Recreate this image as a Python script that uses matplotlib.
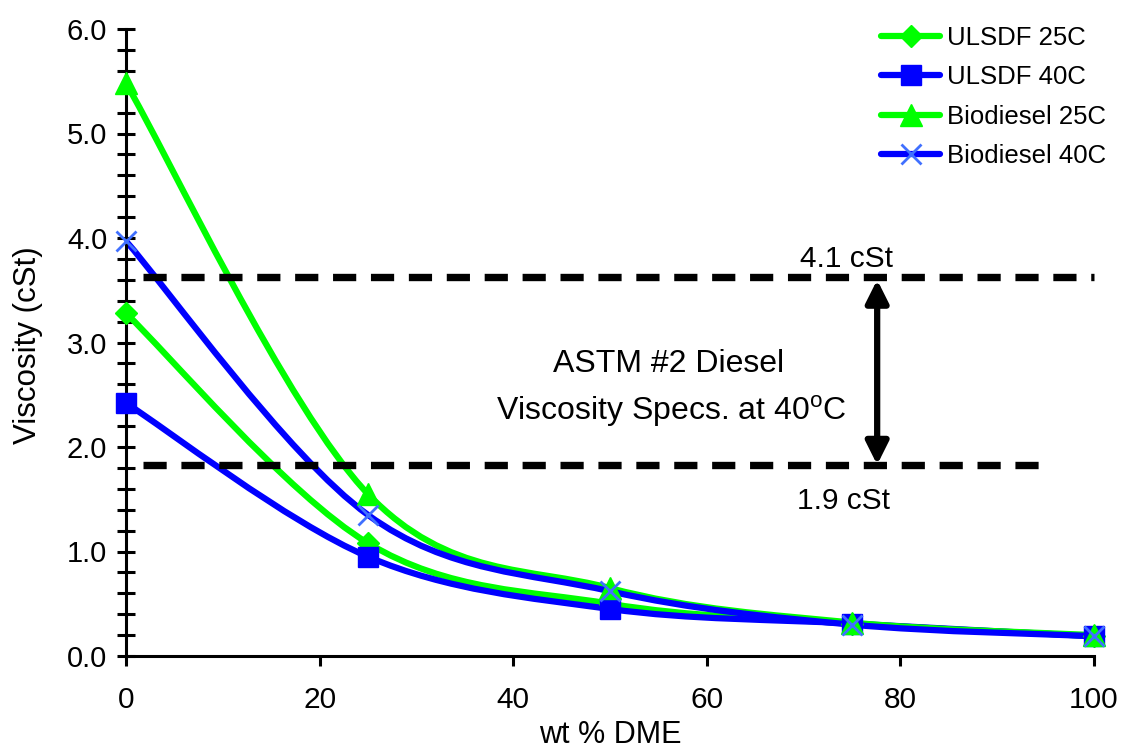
import numpy as np
import matplotlib
matplotlib.use("Agg")
import matplotlib.pyplot as plt
from matplotlib.path import Path
from matplotlib.patches import PathPatch
from matplotlib.lines import Line2D

plt.rcParams['font.family'] = ['Liberation Sans', 'DejaVu Sans']
plt.rcParams['mathtext.fontset'] = 'custom'
plt.rcParams['mathtext.rm'] = 'Liberation Sans'

# ---- data ----
wt_dme = [0, 25, 50, 75, 100]
ulsdf_25c = [3.28, 1.08, 0.50, 0.31, 0.19]
ulsdf_40c = [2.42, 0.95, 0.45, 0.31, 0.19]
biodiesel_25c = [5.48, 1.55, 0.65, 0.32, 0.20]
biodiesel_40c = [3.97, 1.35, 0.62, 0.30, 0.19]
series_names = ["ULSDF 25C", "ULSDF 40C", "Biodiesel 25C", "Biodiesel 40C"]
spec_upper_y = 3.63
spec_lower_y = 1.83
spec_upper_label = "4.1 cSt"
spec_lower_label = "1.9 cSt"
x_ticks = [0, 20, 40, 60, 80, 100]
y_ticks = [0.0, 1.0, 2.0, 3.0, 4.0, 5.0, 6.0]

GREEN = '#00FF00'
BLUE = '#0000FF'
LBLUE = '#4070FF'


def smooth_path(x, y):
    """Excel-like smoothed line: Catmull-Rom segments as cubic Bezier."""
    pts = np.column_stack([x, y]).astype(float)
    n = len(pts)
    verts = [pts[0]]
    codes = [Path.MOVETO]
    for i in range(n - 1):
        p0 = pts[i - 1] if i > 0 else pts[i]
        p1 = pts[i]
        p2 = pts[i + 1]
        p3 = pts[i + 2] if i + 2 < n else pts[i + 1]
        c1 = p1 + (p2 - p0) / 6.0
        c2 = p2 - (p3 - p1) / 6.0
        verts += [c1, c2, p2]
        codes += [Path.CURVE4] * 3
    return Path(verts, codes)


fig = plt.figure(figsize=(11.25, 7.51), dpi=100)
ax = fig.add_axes([126 / 1125, 1 - 656 / 751, (1094 - 126) / 1125, (656 - 29) / 751])

styles = [
    (ulsdf_25c, GREEN, dict(marker='D', ms=11.5, mfc=GREEN, mec=GREEN, mew=1)),
    (ulsdf_40c, BLUE, dict(marker='s', ms=14, mfc=BLUE, mec=BLUE, mew=1)),
    (biodiesel_25c, GREEN, dict(marker='^', ms=16, mfc=GREEN, mec=GREEN, mew=1)),
    (biodiesel_40c, BLUE, dict(marker='x', ms=15, mfc=LBLUE, mec=LBLUE, mew=2)),
]
LW = 4.5
handles = []
for (vals, col, mk), name in zip(styles, series_names):
    patch = PathPatch(smooth_path(wt_dme, vals), fill=False, edgecolor=col,
                      lw=LW, capstyle='round', joinstyle='round', zorder=2)
    ax.add_patch(patch)
    ax.plot(wt_dme, vals, linestyle='none', zorder=3, clip_on=False, **mk)
    handles.append(Line2D([], [], color=col, lw=LW, solid_capstyle='round', **mk))

# spec lines
ax.plot([1.75, 100], [spec_upper_y, spec_upper_y], color='black', lw=5.3,
        dashes=(3.15, 2.0), dash_capstyle='butt', zorder=4, clip_on=False)
ax.plot([1.75, 94.5], [spec_lower_y, spec_lower_y], color='black', lw=5.3,
        dashes=(3.15, 2.0), dash_capstyle='butt', zorder=4, clip_on=False)
ax.annotate('', xy=(77.6, spec_upper_y - 0.03), xytext=(77.6, spec_lower_y),
            arrowprops=dict(arrowstyle='<|-|>', color='black', lw=4.5,
                            mutation_scale=34, shrinkA=0, shrinkB=0), zorder=5)
ax.text(74.4, 3.725, spec_upper_label, fontsize=21.5, ha='center', va='baseline')
ax.text(74.1, 1.41, spec_lower_label, fontsize=21.5, ha='center', va='baseline')
ax.text(56.0, 2.72, 'ASTM #2 Diesel', fontsize=23, ha='center', va='baseline')
ax.text(56.35, 2.26, 'Viscosity Specs. at 40$^{\\mathrm{o}}$C', fontsize=23,
        ha='center', va='baseline')

ax.set_xlim(0, 100)
ax.set_ylim(0, 6.0)
ax.set_xticks(x_ticks)
ax.set_yticks(y_ticks)
ax.set_yticklabels([f"{v:.1f}" for v in y_ticks])
ax.set_yticks(np.arange(0, 6.01, 0.2), minor=True)
for s in ['top', 'right']:
    ax.spines[s].set_visible(False)
for s in ['left', 'bottom']:
    ax.spines[s].set_linewidth(2.2)
ax.tick_params(axis='x', direction='out', length=7.5, width=2.2, labelsize=21.5, pad=14)
ax.tick_params(axis='y', which='both', direction='inout', length=13, width=2.2,
               labelsize=21, pad=7)

ax.set_xlabel('wt % DME', fontsize=22)
ax.xaxis.set_label_coords(0.5, -0.102)
ax.set_ylabel('Viscosity (cSt)', fontsize=22.5)
ax.yaxis.set_label_coords(-0.0857, 0.496)

leg = ax.legend(handles, series_names, loc='upper left', bbox_to_anchor=(881 / 1125, 1 - 26 / 751),
                bbox_transform=fig.transFigure, frameon=False, fontsize=18.5,
                handlelength=2.3, handletextpad=0.27, labelspacing=0.6, borderpad=0,
                borderaxespad=0)

fig.savefig('out.png', dpi=100)
